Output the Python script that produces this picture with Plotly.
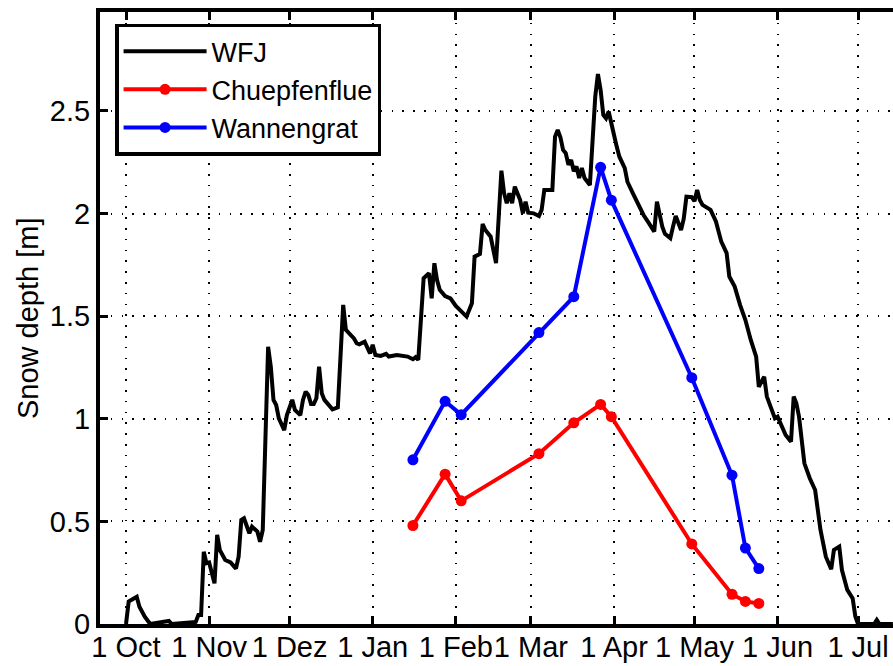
import pandas as pd
import plotly.graph_objects as go

# ---------------- data ----------------
season_start = "2008-10-01"

# WFJ daily snow depth (days since 1 Oct, depth in m)
wfj_day = [0, 1, 4, 5, 7, 9, 16, 17, 26, 27, 28, 29, 30, 31, 33, 34, 35, 37, 39, 41,
           42, 43, 44, 46, 47, 49, 50, 51, 53, 54, 55, 56, 57, 59, 60, 62, 63, 65, 66, 67,
           68, 69, 70, 71, 72, 73, 74, 76, 77, 79, 81, 82, 83, 85, 86, 87, 89, 90, 91, 92,
           93, 95, 97, 98, 101, 105, 107, 108, 109, 111, 113, 114, 115, 116, 117, 119, 121, 123, 125, 127,
           129, 130, 132, 133, 134, 136, 138, 139, 140, 141, 142, 143, 144, 145, 146, 147, 148, 149, 150, 152,
           154, 155, 156, 158, 159, 160, 161, 162, 163, 164, 165, 166, 167, 168, 169, 170, 171, 173, 174, 175,
           176, 177, 178, 179, 180, 181, 182, 183, 184, 186, 187, 189, 191, 193, 195, 197, 198, 199, 200, 201,
           203, 204, 205, 207, 208, 209, 211, 212, 213, 214, 215, 218, 220, 222, 224, 225, 227, 229, 231, 233,
           235, 236, 238, 239, 240, 242, 243, 245, 246, 248, 249, 250, 251, 253, 255, 257, 259, 261, 263, 264,
           266, 267, 269, 271, 272, 273, 279, 280, 281, 286]
wfj_depth = [0.0, 0.11, 0.133, 0.084, 0.036, 0.0, 0.015, 0.0, 0.01, 0.044, 0.044, 0.352, 0.296, 0.30, 0.198, 0.434, 0.36, 0.312, 0.30, 0.27,
             0.328, 0.507, 0.515, 0.442, 0.474, 0.45, 0.401, 0.458, 1.351, 1.254, 1.092, 1.067, 1.002, 0.945, 1.018, 1.092, 1.043, 1.018, 1.092, 1.132,
             1.116, 1.072, 1.072, 1.10, 1.254, 1.124, 1.092, 1.059, 1.046, 1.056, 1.555, 1.433, 1.417, 1.392, 1.368, 1.363, 1.376, 1.351, 1.319, 1.36,
             1.311, 1.306, 1.316, 1.303, 1.311, 1.303, 1.29, 1.30, 1.287, 1.685, 1.709, 1.587, 1.758, 1.676, 1.628, 1.598, 1.587, 1.55, 1.522, 1.498,
             1.563, 1.79, 1.803, 1.949, 1.92, 1.887, 1.758, 1.953, 2.209, 2.099, 2.05, 2.099, 2.05, 2.131, 2.099, 2.066, 2.001, 2.058, 2.004, 2.001,
             1.988, 2.018, 2.115, 2.115, 2.115, 2.375, 2.407, 2.372, 2.31, 2.294, 2.237, 2.261, 2.206, 2.229, 2.173, 2.222, 2.173, 2.139, 2.391, 2.57,
             2.68, 2.602, 2.48, 2.464, 2.497, 2.448, 2.383, 2.326, 2.277, 2.221, 2.155, 2.099, 2.042, 1.993, 1.953, 1.912, 2.058, 1.993, 1.936, 1.901,
             1.88, 1.936, 1.988, 1.92, 1.975, 2.082, 2.08, 2.06, 2.115, 2.066, 2.042, 2.018, 1.961, 1.863, 1.807, 1.693, 1.644, 1.555, 1.481, 1.384,
             1.303, 1.156, 1.205, 1.108, 1.075, 1.002, 1.01, 0.954, 0.921, 0.888, 1.108, 1.075, 1.01, 0.783, 0.71, 0.653, 0.458, 0.328, 0.267, 0.361,
             0.377, 0.263, 0.166, 0.125, 0.036, 0.0, 0.0, 0.02, 0.0, 0.0]

# Manual survey dates (shared by both sites)
survey_dates = ["2009-01-16", "2009-01-28", "2009-02-03", "2009-03-04", "2009-03-17", "2009-03-27",
                "2009-03-31", "2009-04-30", "2009-05-15", "2009-05-20", "2009-05-25"]
chuepfenflue = [0.48, 0.73, 0.60, 0.83, 0.98, 1.07, 1.01, 0.39, 0.145, 0.11, 0.10]
wannengrat = [0.80, 1.085, 1.02, 1.42, 1.595, 2.225, 2.065, 1.20, 0.725, 0.37, 0.27]

# Axis ticks
x_tick_dates = ["2008-10-01", "2008-11-01", "2008-12-01", "2009-01-01", "2009-02-01",
                "2009-03-01", "2009-04-01", "2009-05-01", "2009-06-01", "2009-07-01"]
x_tick_text = ["1 Oct", "1 Nov", "1 Dez", "1 Jan", "1 Feb", "1 Mar", "1 Apr", "1 May", "1 Jun", "1 Jul"]
y_tick_vals = [0, 0.5, 1, 1.5, 2, 2.5]
y_tick_text = ["0", "0.5", "1", "1.5", "2", "2.5"]
y_title = "Snow depth [m]"

# ---------------- figure ----------------
wfj_dates = pd.Timestamp(season_start) + pd.to_timedelta(wfj_day, unit="D")

FONT = "Liberation Sans, Arial, Helvetica, sans-serif"

fig = go.Figure()
fig.add_trace(go.Scatter(x=wfj_dates, y=wfj_depth, mode="lines", name="WFJ",
                         line=dict(color="black", width=4)))
fig.add_trace(go.Scatter(x=pd.to_datetime(survey_dates), y=chuepfenflue, mode="lines+markers",
                         name="Chuepfenflue", line=dict(color="#ff0000", width=4),
                         marker=dict(color="#ff0000", size=11)))
fig.add_trace(go.Scatter(x=pd.to_datetime(survey_dates), y=wannengrat, mode="lines+markers",
                         name="Wannengrat", line=dict(color="#0000ff", width=4),
                         marker=dict(color="#0000ff", size=11)))

fig.update_layout(
    width=893, height=666,
    margin=dict(l=100, r=0, t=12, b=42, autoexpand=False),
    paper_bgcolor="white", plot_bgcolor="white",
    font=dict(family=FONT, color="black", size=29),
    showlegend=True,
    legend=dict(x=0.019, y=0.981, xanchor="left", yanchor="top",
                bgcolor="white", bordercolor="black", borderwidth=3.5,
                font=dict(family=FONT, size=27, color="black"),
                itemwidth=83),
    annotations=[dict(text=y_title, textangle=-90, xref="paper", yref="paper",
                      x=(28 - 100) / 793, y=0.5, xanchor="center", yanchor="middle",
                      showarrow=False, font=dict(family=FONT, size=29, color="black"))],
)

fig.update_xaxes(
    type="date",
    range=["2008-09-21 07:12", "2009-07-14 01:00"],
    tickvals=pd.to_datetime(x_tick_dates), ticktext=x_tick_text, tickangle=0,
    ticks="inside", ticklen=8, tickwidth=3, tickcolor="black",
    showline=True, linecolor="black", linewidth=4, mirror="ticks",
    showgrid=True, gridcolor="black", gridwidth=2, griddash="1.5px,9.3px",
    zeroline=False, tickfont=dict(size=29), ticklabelstandoff=-6, automargin=False,
)
fig.update_yaxes(
    range=[0, 2.982],
    tickvals=y_tick_vals, ticktext=y_tick_text,
    ticks="inside", ticklen=8, tickwidth=3, tickcolor="black",
    showline=True, linecolor="black", linewidth=4, mirror=False,
    showgrid=True, gridcolor="black", gridwidth=2, griddash="1.5px,9.3px",
    zeroline=False, tickfont=dict(size=29), ticklabelstandoff=0, automargin=False,
)

fig.write_html("out.html",
               config={"displayModeBar": False, "staticPlot": True},
               post_script="document.body.style.margin='0';document.body.style.padding='0';"
                           "document.body.style.overflow='hidden';")
